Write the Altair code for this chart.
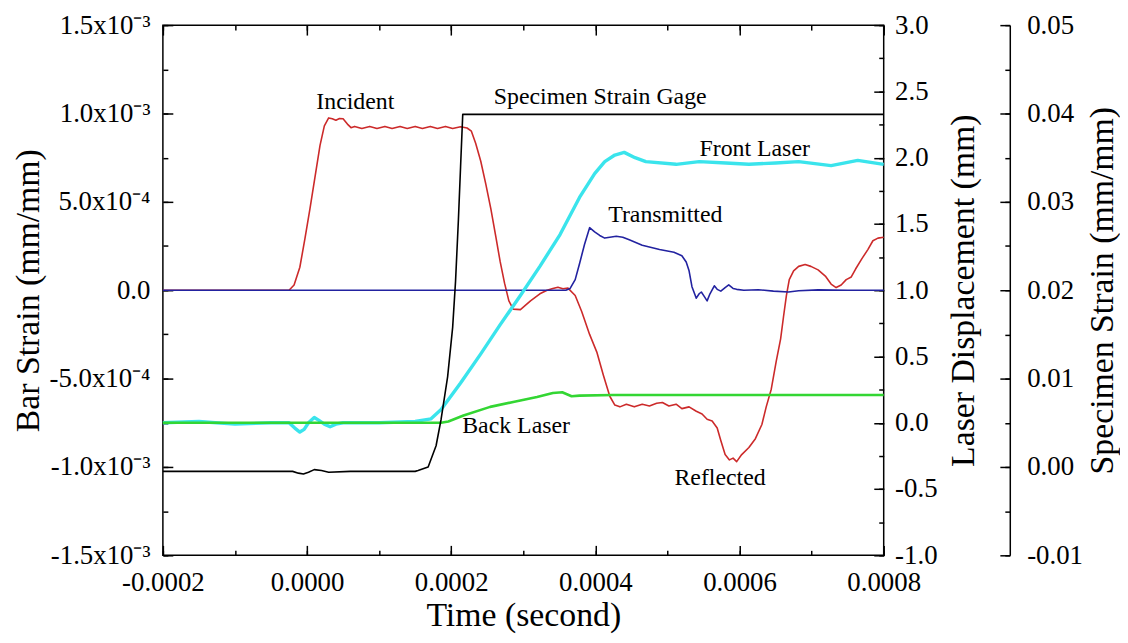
import altair as alt
import pandas as pd

FONT = "Liberation Serif"

# ---------------- axes: tick values and printed labels ----------------
TIME_MAJOR_US = [-200, 0, 200, 400, 600, 800]
TIME_LABELS = ["-0.0002", "0.0000", "0.0002", "0.0004", "0.0006", "0.0008"]
TIME_MINOR_US = [-100, 100, 300, 500, 700]

BAR_MAJOR_E4 = [-15, -10, -5, 0, 5, 10, 15]
BAR_LABELS = ["-1.5x10\u207b\u00b3", "-1.0x10\u207b\u00b3", "-5.0x10\u207b\u2074", "0.0",
              "5.0x10\u207b\u2074", "1.0x10\u207b\u00b3", "1.5x10\u207b\u00b3"]
BAR_MINOR_E4 = [-12.5, -7.5, -2.5, 2.5, 7.5, 12.5]

LASER_MAJOR = [-1.0, -0.5, 0.0, 0.5, 1.0, 1.5, 2.0, 2.5, 3.0]
LASER_LABELS = ["-1.0", "-0.5", "0.0", "0.5", "1.0", "1.5", "2.0", "2.5", "3.0"]
LASER_MINOR = [-0.75, -0.25, 0.25, 0.75, 1.25, 1.75, 2.25, 2.75]

SPEC_MAJOR = [-0.01, 0.0, 0.01, 0.02, 0.03, 0.04, 0.05]
SPEC_LABELS = ["-0.01", "0.00", "0.01", "0.02", "0.03", "0.04", "0.05"]
SPEC_MINOR = [-0.005, 0.005, 0.015, 0.025, 0.035, 0.045]

# ---------------- series (time in microseconds) ----------------
# bar strain in units of 1e-4 mm/mm
INCIDENT = [(-200, 0), (-60, 0), (-25, 0), (-18, 0.3), (-10, 1.3), (-3, 2.9), (4, 4.6), (11, 6.4), (18, 8.2),
            (24, 9.3), (30, 9.75), (35, 9.7), (40, 9.62), (45, 9.72), (50, 9.7), (56, 9.4), (61, 9.2),
            (66, 9.27), (76, 9.15), (87, 9.27), (97, 9.15), (108, 9.27), (118, 9.15), (129, 9.27), (139, 9.15),
            (150, 9.27), (160, 9.15), (171, 9.27), (181, 9.15), (192, 9.27), (202, 9.15), (213, 9.25),
            (222, 9.18), (228, 9.0), (234, 8.3), (241, 7.3), (248, 6.0), (255, 4.6), (262, 3.0),
            (268, 1.6), (274, 0.4), (280, -0.6), (286, -1.07), (296, -1.1), (310, -0.6), (323, -0.2), (333, 0.0),
            (341, 0.1), (348, 0.17), (355, 0.08), (362, 0.12), (372, -0.3), (381, -1.2), (392, -2.5), (402, -3.5),
            (411, -4.8), (420, -6.0), (427, -6.5), (434, -6.6), (443, -6.45), (454, -6.6), (465, -6.45),
            (475, -6.55), (485, -6.4), (493, -6.35), (502, -6.55), (512, -6.45), (520, -6.7), (530, -6.6),
            (540, -6.85), (548, -7.0), (555, -7.3), (562, -7.4), (569, -7.8), (574, -8.5), (580, -9.3),
            (586, -9.6), (591, -9.5), (596, -9.7), (603, -9.3), (613, -8.9), (622, -8.4), (631, -7.6),
            (637, -6.6), (644, -5.6), (651, -4.0), (657, -2.75), (661, -1.5), (665, -0.3), (669, 0.6),
            (675, 1.1), (682, 1.35), (691, 1.45), (699, 1.35), (709, 1.15), (719, 0.8), (727, 0.35),
            (734, 0.15), (741, 0.3), (748, 0.6), (755, 0.75), (761, 1.2), (770, 1.8), (778, 2.3), (785, 2.8),
            (792, 2.95), (800, 3.0)]

TRANSMITTED = [(-200, 0), (359, 0), (365, 0.1), (372, 0.6), (378, 1.5), (385, 2.6), (392, 3.54), (399, 3.3),
               (406, 3.1), (413, 2.95), (420, 3.0), (429, 3.05), (438, 3.0), (447, 2.85), (465, 2.55),
               (489, 2.3), (509, 2.15), (520, 1.95), (526, 1.6), (530, 1.1), (534, 0.2), (540, -0.45),
               (544, -0.2), (547, -0.1), (551, -0.35), (555, -0.6), (559, -0.2), (565, 0.25), (569, 0.05),
               (574, -0.05), (580, 0.15), (585, 0.3), (591, 0.1), (596, 0.05), (606, 0.0), (626, 0.03),
               (647, -0.05), (668, -0.1), (682, -0.03), (709, 0.02), (750, 0.0), (800, 0.0)]

# laser displacement in mm
FRONT_LASER = [(-200, 0.0), (-150, 0.01), (-100, -0.01), (-50, 0.0), (-25, 0.0), (-17, -0.04), (-10, -0.07),
               (-4, -0.05), (2, 0.0), (10, 0.04), (16, 0.02), (24, -0.01), (32, -0.03), (40, -0.01), (50, 0.0),
               (100, 0.0), (150, 0.01), (172, 0.03), (186, 0.10), (213, 0.30), (241, 0.52), (268, 0.74),
               (296, 0.96), (323, 1.18), (351, 1.42), (378, 1.70), (399, 1.88), (413, 1.97), (427, 2.02),
               (440, 2.04), (455, 2.0), (470, 1.97), (512, 1.95), (544, 1.97), (581, 1.96), (613, 1.95),
               (650, 1.96), (682, 1.97), (727, 1.94), (764, 1.98), (800, 1.95)]

BACK_LASER = [(-200, 0.0), (186, 0.0), (196, 0.01), (217, 0.055), (254, 0.12), (286, 0.157), (319, 0.195),
              (341, 0.225), (354, 0.23), (367, 0.2), (378, 0.205), (424, 0.21), (800, 0.21)]

# specimen strain in mm/mm
SPECIMEN_GAGE = [(-200, -0.0005), (-60, -0.0005), (-20, -0.0005), (-12, -0.0007), (-5, -0.0008), (2, -0.0006),
                 (10, -0.0003), (20, -0.0004), (30, -0.0006), (60, -0.0005), (150, -0.0005), (154, -0.0004),
                 (168, 0.0), (179, 0.0024), (186, 0.0054), (195, 0.0102), (202, 0.0158), (206, 0.021),
                 (210, 0.028), (213, 0.034), (216, 0.0399), (800, 0.0399)]

# curve labels: (text, time_us, value on that curve's axis)
BAR_TEXT = [("Incident", 67, 10.67), ("Transmitted", 497, 4.27), ("Reflected", 573, -10.62)]
LASER_TEXT = [("Front Laser", 621, 2.066), ("Back Laser", 290, -0.022)]
SPEC_TEXT = [("Specimen Strain Gage", 259, 0.0419)]

PLOT_W, PLOT_H = 726, 534
SPEC_OFFSET = 127
MAJOR_LEN, MINOR_LEN = 10, 5


def label_expr(ticks, texts):
    eps = abs(ticks[1] - ticks[0]) / 20
    expr = "''"
    for v, lab in reversed(list(zip(ticks, texts))):
        expr = f"abs(datum.value - ({v})) < {eps} ? '{lab}' : ({expr})"
    return expr


TEXT_STYLE = dict(labelFont=FONT, labelFontSize=27, labelColor="black",
                  titleFont=FONT, titleFontSize=34, titleFontWeight="normal", titleColor="black",
                  labelFlush=False, labelOverlap=False)


def labelled_axis(major, minor, texts, orient, offset, **kw):
    # all ticks short (drawn from inside the frame out to it), labels on the major ones
    return alt.Axis(values=sorted(major + minor), labelExpr=label_expr(major, texts), orient=orient,
                    offset=offset, tickSize=MINOR_LEN, domain=False, grid=False,
                    tickColor="black", tickWidth=1.5, **TEXT_STYLE, **kw)


def major_tick_axis(major, orient, offset, **kw):
    return alt.Axis(values=major, orient=orient, offset=offset, tickSize=MAJOR_LEN, labels=False,
                    title=None, grid=False, tickColor="black", tickWidth=1.5, **kw)


x_scale = alt.Scale(domain=[-200, 800], nice=False, zero=False)
bar_scale = alt.Scale(domain=[-15, 15], nice=False, zero=False)
laser_scale = alt.Scale(domain=[-1.0, 3.0], nice=False, zero=False)
spec_scale = alt.Scale(domain=[-0.01, 0.05], nice=False, zero=False)

x_bottom = alt.X("t:Q", scale=x_scale,
                 axis=labelled_axis(TIME_MAJOR_US, TIME_MINOR_US, TIME_LABELS, "bottom", -MINOR_LEN,
                                    labelPadding=14, title="Time (second)", titlePadding=4))
x_bottom_major = alt.X("t:Q", scale=x_scale, axis=major_tick_axis(TIME_MAJOR_US, "bottom", -MAJOR_LEN, domain=False))
x_top = alt.X("t:Q", scale=x_scale,
              axis=labelled_axis(TIME_MAJOR_US, TIME_MINOR_US, TIME_LABELS, "top", -MINOR_LEN,
                                 labels=False, title=None))
x_top_major = alt.X("t:Q", scale=x_scale, axis=major_tick_axis(TIME_MAJOR_US, "top", -MAJOR_LEN, domain=False))
x_none = alt.X("t:Q", scale=x_scale, axis=None)

y_bar = alt.Y("v:Q", scale=bar_scale,
              axis=labelled_axis(BAR_MAJOR_E4, BAR_MINOR_E4, BAR_LABELS, "left", -MINOR_LEN,
                                 labelPadding=13, title="Bar Strain (mm/mm)", titlePadding=4))
y_bar_major = alt.Y("v:Q", scale=bar_scale, axis=major_tick_axis(BAR_MAJOR_E4, "left", -MAJOR_LEN, domain=False))
y_laser = alt.Y("d:Q", scale=laser_scale,
                axis=labelled_axis(LASER_MAJOR, LASER_MINOR, LASER_LABELS, "right", -MINOR_LEN,
                                   labelPadding=11, title="Laser Displacement (mm)", titleAngle=270,
                                   titleBaseline="top", titlePadding=10))
y_laser_major = alt.Y("d:Q", scale=laser_scale,
                      axis=major_tick_axis(LASER_MAJOR, "right", -MAJOR_LEN, domain=False))
# detached specimen-strain axis: its line and long ticks point back toward the plot
y_spec_major = alt.Y("s:Q", scale=spec_scale,
                     axis=major_tick_axis(SPEC_MAJOR, "left", -(PLOT_W + SPEC_OFFSET), domain=True,
                                          domainColor="black", domainWidth=1.5))
y_spec = alt.Y("s:Q", scale=spec_scale,
               axis=labelled_axis(SPEC_MAJOR, SPEC_MINOR, SPEC_LABELS, "right", SPEC_OFFSET - MINOR_LEN,
                                  labelPadding=17, title="Specimen Strain (mm/mm)", titleAngle=270,
                                  titleBaseline="top", titlePadding=3))


def line(pairs, field, color, width, x_enc, y_enc):
    df = pd.DataFrame(pairs, columns=["t", field])
    return alt.Chart(df).mark_line(color=color, strokeWidth=width, strokeJoin="round").encode(x=x_enc, y=y_enc)


def curve_labels(rows, field, x_enc, y_enc, align="center"):
    df = pd.DataFrame(rows, columns=["label", "t", field])
    return alt.Chart(df).mark_text(font=FONT, fontSize=24, color="black", align=align,
                                   baseline="middle").encode(x=x_enc, y=y_enc, text="label:N")


bar_layer = alt.layer(
    alt.layer(
        line(INCIDENT, "v", "#cc2a2a", 1.6, x_bottom, y_bar),
        line(TRANSMITTED, "v", "#2222a0", 1.6, x_bottom, y_bar),
    ),
    curve_labels(BAR_TEXT, "v", x_bottom_major, y_bar_major),
).resolve_axis(x="independent", y="independent")

laser_layer = alt.layer(
    alt.layer(
        line(FRONT_LASER, "d", "#3ae4ec", 3.4, x_top, y_laser),
        line(BACK_LASER, "d", "#33d633", 2.6, x_top, y_laser),
    ),
    curve_labels(LASER_TEXT, "d", x_top_major, y_laser_major),
).resolve_axis(x="independent", y="independent")

spec_layer = alt.layer(
    line(SPECIMEN_GAGE, "s", "black", 1.6, x_none, y_spec_major),
    curve_labels(SPEC_TEXT, "s", x_none, y_spec, align="left"),
).resolve_axis(x="independent", y="independent")

chart = (
    alt.layer(bar_layer, laser_layer, spec_layer)
    .resolve_scale(y="independent")
    .resolve_axis(x="independent", y="independent")
    .properties(width=PLOT_W, height=PLOT_H, padding={"left": 3, "top": 1, "right": 0, "bottom": 0},
                background="white")
    .configure_view(stroke="black", strokeWidth=1.5)
)

chart.save("out.html", embed_options={"renderer": "svg", "actions": False})
